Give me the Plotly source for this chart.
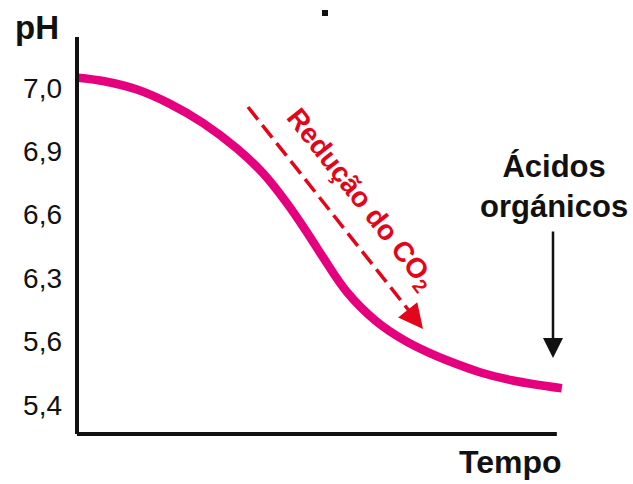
import plotly.graph_objects as go

# Data: time (arbitrary units) and pH level index (0..5 maps to tick labels)
tempo = [0.21, 5.42, 12.5, 19.375, 26.25, 33.33, 38.75, 43.75, 47.92, 51.25, 56.25,
         62.29, 68.33, 73.54, 77.08, 83.96, 90.83, 101.04]
nivel_ph = [5.158, 5.106, 4.972, 4.746, 4.445, 4.042, 3.653, 3.180, 2.722, 2.331, 1.782,
            1.325, 1.014, 0.817, 0.705, 0.517, 0.386, 0.263]
tick_pos = [0, 1, 2, 3, 4, 5]
tick_labels = ["5,4", "5,6", "6,3", "6,6", "6,9", "7,0"]

MAGENTA = "#E5007E"
RED = "#E3061B"
BLACK = "#111111"
FONT = "Liberation Sans, Arial, sans-serif"

L, R, T, B = 77, 68, 37, 50
W, H = 633, 484
PW, PH = W - L - R, H - T - B


def px(xp):
    return (xp - L) / PW


def py(yp):
    return (H - B - yp) / PH


fig = go.Figure()
fig.add_trace(go.Scatter(
    x=tempo, y=nivel_ph, mode="lines",
    line=dict(color=MAGENTA, width=8.5, shape="spline", smoothing=1.0),
    hoverinfo="skip", showlegend=False,
))

fig.update_layout(
    width=W, height=H,
    margin=dict(l=L, r=R, t=T, b=B),
    paper_bgcolor="white", plot_bgcolor="white",
    xaxis=dict(range=[0, 101.7], showgrid=False, zeroline=False, showline=False,
               showticklabels=False, ticks="", fixedrange=True, automargin=False),
    yaxis=dict(range=[-0.457, 5.80], showgrid=False, zeroline=False, showline=False,
               tickvals=tick_pos, ticktext=tick_labels, ticks="",
               ticklabelstandoff=14, automargin=False,
               tickfont=dict(family=FONT, size=28, color=BLACK), fixedrange=True),
    font=dict(family=FONT),
)

shapes = [
    # y axis line
    dict(type="line", xref="paper", yref="paper", x0=0, x1=0, y0=0, y1=1,
         line=dict(color=BLACK, width=4)),
    # x axis line
    dict(type="line", xref="x", yref="paper", x0=0, x1=100, y0=0, y1=0,
         line=dict(color=BLACK, width=4)),
    # red dashed arrow body
    dict(type="line", xref="paper", yref="paper", x0=px(248), y0=py(107), x1=px(414), y1=py(317),
         line=dict(color=RED, width=3.5, dash="16px,7px")),
    # small dot at top
    dict(type="rect", xref="paper", yref="paper", x0=px(322), x1=px(328), y0=py(16), y1=py(10),
         fillcolor=BLACK, line=dict(width=0)),
]
fig.update_layout(shapes=shapes)

annotations = [
    dict(text="<b>pH</b>", xref="paper", yref="paper", x=px(37), y=py(28),
         showarrow=False, font=dict(size=33, color=BLACK), xanchor="center", yanchor="middle"),
    dict(text="<b>Tempo</b>", xref="paper", yref="paper", x=px(510), y=py(462),
         showarrow=False, font=dict(size=32, color=BLACK), xanchor="center", yanchor="middle"),
    dict(text="<b>Ácidos<br>orgánicos</b>", xref="paper", yref="paper", x=px(554), y=py(186),
         showarrow=False, font=dict(size=31, color=BLACK), xanchor="center", yanchor="middle"),
    dict(text="<b>Redução do CO<sub>2</sub></b>", xref="paper", yref="paper", x=px(360), y=py(199),
         showarrow=False, textangle=51.6, font=dict(size=28, color=RED),
         xanchor="center", yanchor="middle"),
    # black arrow
    dict(text="", xref="paper", yref="paper", x=px(553), y=py(358),
         ax=0, ay=-128, showarrow=True, arrowhead=2, arrowsize=1.6, arrowwidth=2.5,
         arrowcolor=BLACK),
    # red arrow head
    dict(text="", xref="paper", yref="paper", x=px(423), y=py(329),
         ax=-12, ay=-15, showarrow=True, arrowhead=2, arrowsize=1.4, arrowwidth=3.5,
         arrowcolor=RED),
]
fig.update_layout(annotations=annotations)

fig.write_html("out.html", config={"displayModeBar": False},
               post_script="document.body.style.margin='0';document.body.style.overflow='hidden';")
